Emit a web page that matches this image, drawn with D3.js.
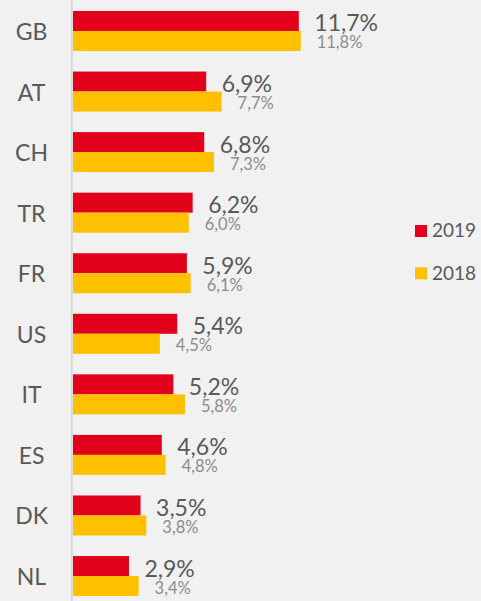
<!DOCTYPE html>
<html><head><meta charset="utf-8">
<script src="https://cdn.jsdelivr.net/npm/d3@7"></script>
<style>html,body{margin:0;padding:0;background:#f1f1f1;}svg{display:block;}</style>
</head><body>
<script>
const categories = ["GB","AT","CH","TR","FR","US","IT","ES","DK","NL"];
const values2019 = [11.7,6.9,6.8,6.2,5.9,5.4,5.2,4.6,3.5,2.9];
const values2018 = [11.8,7.7,7.3,6.0,6.1,4.5,5.8,4.8,3.8,3.4];
const seriesNames = ["2019","2018"];
const colors = ["#e2001a","#ffc000"];

const W = 481, H = 601;
const svg = d3.select("body").append("svg").attr("width", W).attr("height", H);
svg.append("rect").attr("width", W).attr("height", H).attr("fill", "#f1f1f1");

const x = d3.scaleLinear().domain([0, 12]).range([73, 73 + 12 * 19.3]);
const y = d3.scaleBand().domain(categories).range([0.7, 606.3]).paddingInner(0.34).paddingOuter(0.17);
const ys = d3.scaleBand().domain(seriesNames).range([0, y.bandwidth()]);
const fmt = v => d3.format(".1f")(v).replace(".", ",") + "%";

const data = categories.map((c, i) => ({cat: c, vals: [values2019[i], values2018[i]]}));

const g = svg.append("g");
const groups = g.selectAll("g.grp").data(data).join("g").attr("class", "grp")
  .attr("transform", d => `translate(0,${y(d.cat)})`);

groups.selectAll("rect").data(d => d.vals.map((v, k) => ({v, k})))
  .join("rect")
  .attr("x", x(0))
  .attr("y", d => ys(seriesNames[d.k]))
  .attr("width", d => x(d.v) - x(0))
  .attr("height", ys.bandwidth())
  .attr("fill", d => colors[d.k]);

// value labels
groups.append("text")
  .attr("x", d => x(d.vals[0]) + 15.5)
  .attr("y", ys.bandwidth() + 0.5)
  .attr("font-family", "Lato, 'Open Sans', sans-serif")
  .attr("font-size", 23)
  .attr("fill", "#595959")
  .text(d => fmt(d.vals[0]));
groups.append("text")
  .attr("x", d => x(d.vals[1]) + 16)
  .attr("y", ys.bandwidth() + 17.5)
  .attr("font-family", "Lato, 'Open Sans', sans-serif")
  .attr("font-size", 16.5)
  .attr("fill", "#8c8c8c")
  .text(d => fmt(d.vals[1]));

// category axis
svg.append("line").attr("x1", 71.8).attr("x2", 71.8).attr("y1", 0).attr("y2", H)
  .attr("stroke", "#d9d9d9").attr("stroke-width", 2);
const yAxis = d3.axisLeft(y).tickSize(0).tickPadding(0);
const ax = svg.append("g").attr("transform", "translate(31.5,0)").call(yAxis);
ax.select(".domain").remove();
ax.selectAll("text")
  .attr("text-anchor", "middle")
  .attr("dy", null)
  .attr("dominant-baseline", "central")
  .attr("x", 0)
  .attr("font-family", "Lato, 'Open Sans', sans-serif")
  .attr("font-size", 23)
  .attr("fill", "#595959");

// legend
const legend = svg.append("g");
const ly = [225, 267.3];
seriesNames.forEach((s, k) => {
  legend.append("rect").attr("x", 415).attr("y", ly[k]).attr("width", 12).attr("height", 12).attr("fill", colors[k]);
  legend.append("text").attr("x", 432).attr("y", ly[k] + 12.3).attr("font-family", "Lato, 'Open Sans', sans-serif")
    .attr("font-size", 19).attr("fill", "#595959").text(s);
});
</script>
</body></html>
